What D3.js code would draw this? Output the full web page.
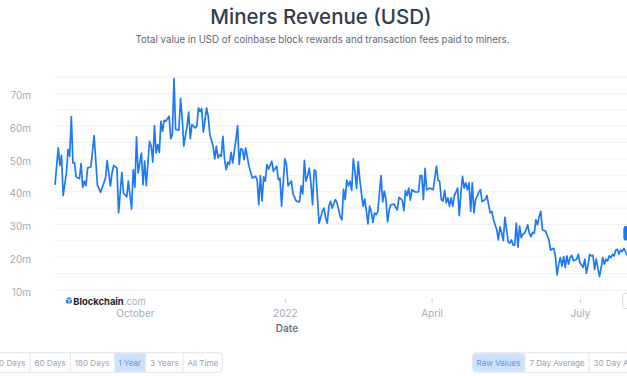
<!DOCTYPE html>
<html>
<head>
<meta charset="utf-8">
<script src="https://cdn.jsdelivr.net/npm/d3@7/dist/d3.min.js"></script>
<style>
  body { margin: 0; background: #fff; overflow: hidden; }
  svg { display: block; font-family: Inter, "Noto Sans", sans-serif; }
</style>
</head>
<body>
<div id="chart"></div>
<script>
// miners revenue, 1 year view, values in millions USD
const startDate = new Date(2021, 7, 13);
const dayIndex = [
  0, 2, 3, 4, 5, 7, 8, 9, 10, 11, 12, 13, 15, 16, 17, 18, 19, 20, 22, 24,
  26, 28, 30, 31, 32, 34, 35, 36, 38, 39, 41, 42, 44, 45, 47, 48, 49, 50, 51, 53,
  54, 55, 56, 58, 59, 60, 61, 62, 63, 64, 65, 66, 67, 68, 70, 71, 72, 73, 74, 76,
  77, 78, 79, 81, 82, 83, 84, 86, 87, 88, 89, 90, 91, 93, 94, 95, 97, 98, 99, 100,
  101, 102, 103, 104, 105, 106, 107, 108, 109, 111, 112, 113, 114, 115, 116, 117, 119, 121, 123, 124,
  125, 126, 127, 128, 129, 130, 131, 133, 134, 136, 137, 138, 139, 141, 142, 143, 145, 146, 148, 150,
  151, 152, 153, 154, 155, 156, 157, 158, 159, 160, 162, 164, 165, 166, 167, 168, 169, 170, 172, 173,
  175, 176, 177, 178, 179, 180, 181, 182, 183, 184, 185, 186, 187, 189, 190, 191, 192, 193, 194, 195,
  196, 197, 198, 200, 201, 202, 203, 204, 205, 206, 208, 210, 211, 213, 214, 215, 216, 217, 218, 219,
  221, 223, 224, 225, 226, 227, 228, 230, 231, 232, 234, 235, 236, 237, 238, 239, 240, 241, 242, 243,
  244, 245, 247, 248, 249, 250, 251, 252, 253, 254, 255, 256, 257, 258, 260, 261, 262, 264, 265, 266,
  267, 268, 269, 270, 271, 272, 273, 274, 275, 276, 277, 278, 279, 280, 281, 282, 283, 284, 285, 286,
  287, 288, 289, 290, 291, 292, 293, 294, 295, 296, 297, 298, 299, 301, 303, 304, 306, 307, 308, 309,
  310, 311, 312, 313, 314, 315, 316, 317, 318, 320, 321, 322, 323, 324, 325, 326, 327, 328, 329, 330,
  331, 332, 334, 335, 336, 337, 338, 339, 340, 341, 342, 343, 344, 345, 346, 347, 348, 349, 350, 351
];
const revenueM = [
  42.1, 53.4, 48.0, 51.1, 38.8, 45.7, 52.9, 50.8, 62.9, 48.8, 48.8, 44.5, 44.0, 48.6, 41.3, 43.2, 41.8, 47.2, 47.6, 57.1,
  42.1, 39.8, 42.7, 44.2, 49.5, 41.8, 45.7, 48.0, 47.2, 33.5, 45.9, 39.6, 38.4, 43.2, 34.7, 46.7, 41.4, 56.7, 45.7, 51.8,
  42.1, 49.3, 41.8, 55.4, 53.9, 49.0, 60.2, 51.8, 54.4, 52.0, 61.5, 58.5, 61.8, 61.5, 63.0, 56.2, 57.4, 74.5, 59.0, 58.8,
  68.4, 62.6, 53.9, 60.0, 64.3, 56.2, 60.5, 59.5, 60.0, 65.6, 64.4, 65.3, 58.2, 65.6, 63.0, 57.4, 53.9, 50.0, 53.9, 50.3,
  51.3, 50.8, 56.9, 49.8, 46.7, 49.0, 48.3, 52.0, 48.8, 55.9, 60.2, 48.3, 53.1, 52.9, 49.8, 53.3, 47.8, 44.2, 44.7, 43.7,
  36.0, 44.9, 37.1, 44.5, 43.2, 48.3, 46.9, 49.3, 46.2, 47.8, 43.7, 44.1, 35.6, 50.0, 48.3, 41.8, 43.3, 39.4, 37.1, 36.9,
  41.8, 39.3, 49.6, 43.2, 44.9, 47.2, 42.5, 36.0, 46.7, 46.2, 30.4, 34.0, 35.0, 32.0, 30.4, 35.5, 37.1, 35.0, 37.6, 36.6,
  32.3, 31.4, 40.7, 37.6, 43.5, 41.8, 43.2, 40.4, 50.0, 46.2, 41.0, 49.1, 43.5, 35.5, 37.8, 34.2, 30.2, 35.6, 33.9, 30.6,
  33.5, 33.0, 33.9, 44.9, 36.9, 40.2, 37.7, 30.8, 34.4, 36.0, 36.2, 34.4, 38.3, 37.4, 34.2, 40.3, 38.8, 41.1, 37.4, 40.6,
  39.9, 39.9, 44.9, 44.9, 37.6, 47.1, 40.6, 41.1, 40.8, 40.6, 47.8, 43.5, 43.1, 37.6, 37.1, 40.4, 36.6, 38.1, 35.6, 38.1,
  35.6, 38.8, 41.1, 32.7, 39.6, 44.7, 41.1, 42.7, 40.6, 42.7, 34.0, 42.7, 33.5, 37.6, 39.8, 40.6, 37.0, 37.6, 38.8, 36.0,
  33.5, 34.0, 31.4, 29.9, 28.4, 25.3, 29.3, 27.3, 25.1, 32.2, 28.4, 24.7, 24.3, 25.3, 23.7, 23.7, 30.4, 23.1, 29.5, 26.0,
  27.0, 27.3, 28.4, 29.9, 27.3, 26.3, 27.6, 27.3, 31.4, 29.9, 32.4, 34.0, 28.4, 27.9, 25.3, 22.2, 22.7, 20.1, 14.6, 17.9,
  19.9, 17.3, 20.2, 16.9, 20.4, 17.9, 19.9, 20.6, 18.9, 19.4, 20.9, 18.4, 17.6, 16.9, 19.4, 15.1, 17.6, 20.9, 20.4, 20.6,
  16.3, 19.4, 14.1, 16.7, 19.9, 17.9, 19.4, 18.9, 20.4, 19.9, 20.9, 20.4, 22.2, 22.4, 20.9, 22.2, 21.7, 22.7, 21.7, 20.6
];
const gridValues = [10, 15, 20, 25, 30, 35, 40, 45, 50, 55, 60, 65, 70, 75];
const yTickValues = [10, 20, 30, 40, 50, 60, 70];
const monthTicks = ["2021-10-01", "2022-01-01", "2022-04-01", "2022-07-01"];
const monthLabels = ["October", "2022", "April", "July"];
const rangeButtons = ["30 Days", "60 Days", "180 Days", "1 Year", "3 Years", "All Time"];
const averageButtons = ["Raw Values", "7 Day Average", "30 Day Average"];
const cursorValue = 27.4;

const width = 627, height = 376;
const margin = {top: 77, left: 55, bottom: 290};
const plotRight = 650;

const data = dayIndex.map((d, i) => ({date: d3.timeDay.offset(startDate, d), value: revenueM[i]}));

const svg = d3.select("#chart").append("svg")
    .attr("width", width)
    .attr("height", height);

// title
svg.append("text")
    .attr("x", 321).attr("y", 23.5)
    .attr("text-anchor", "middle")
    .style("font-size", "20.5px").style("font-weight", 500)
    .attr("fill", "#333d4d")
    .text("Miners Revenue (USD)");
svg.append("text")
    .attr("x", 322.5).attr("y", 42.7)
    .attr("text-anchor", "middle")
    .style("font-size", "9.7px")
    .attr("fill", "#5f6878")
    .text("Total value in USD of coinbase block rewards and transaction fees paid to miners.");

const x = d3.scaleTime()
    .domain([startDate, d3.timeDay.offset(startDate, 365)])
    .range([margin.left, plotRight]);
const y = d3.scaleLinear()
    .domain([10, 75])
    .range([margin.bottom, margin.top]);

// grid
svg.append("g").selectAll("line")
    .data(gridValues)
    .join("line")
    .attr("x1", margin.left).attr("x2", plotRight)
    .attr("y1", d => y(d)).attr("y2", d => y(d))
    .attr("stroke", "#eef0f3").attr("stroke-width", 1);

// y axis
const yAxis = svg.append("g")
    .attr("transform", "translate(31, 2)")
    .call(d3.axisLeft(y).tickValues(yTickValues).tickSize(0).tickPadding(0).tickFormat(d => d + "m"));
yAxis.select(".domain").remove();
yAxis.selectAll("text")
    .style("font-family", "Inter, sans-serif").style("font-size", "10px")
    .attr("fill", "#a3abb9");

// x axis
const xAxis = svg.append("g")
    .attr("transform", "translate(0, 299)")
    .call(d3.axisBottom(x)
        .tickValues(monthTicks.map(d => d3.timeParse("%Y-%m-%d")(d)))
        .tickSize(4).tickPadding(6.5)
        .tickFormat((d, i) => monthLabels[i]));
xAxis.select(".domain").remove();
xAxis.selectAll("line").attr("stroke", "#c9ced6");
xAxis.selectAll("text")
    .style("font-family", "Inter, sans-serif").style("font-size", "10px")
    .attr("fill", "#a3abb9");

svg.append("text")
    .attr("x", 287).attr("y", 331.5)
    .attr("text-anchor", "middle")
    .style("font-size", "10px").style("font-weight", 600)
    .attr("fill", "#6b7383")
    .text("Date");

// series
const line = d3.line()
    .x(d => x(d.date))
    .y(d => y(d.value));

svg.append("path")
    .datum(data)
    .attr("fill", "none")
    .attr("stroke", "#1e7af4")
    .attr("stroke-width", 1.7)
    .attr("stroke-linejoin", "round")
    .attr("d", line);

// crosshair labels cut off at the right edge
svg.append("rect")
    .attr("x", 623.3).attr("y", y(cursorValue) - 7)
    .attr("width", 24).attr("height", 14.5).attr("rx", 3)
    .attr("fill", "#1e7af4");
svg.append("rect")
    .attr("x", 622.7).attr("y", 293.5)
    .attr("width", 24).attr("height", 15).attr("rx", 3)
    .attr("fill", "#fff").attr("stroke", "#d5d9df");

// watermark
const logo = svg.append("g").attr("transform", "translate(66, 297)");
logo.append("rect").attr("x", -1).attr("y", -1).attr("width", 80).attr("height", 11).attr("fill", "#fff");
logo.append("path").attr("d", "M3,0 L6,1.6 L3,3.2 L0,1.6 Z").attr("fill", "#4a9cf5");
logo.append("path").attr("d", "M0,2.4 L2.6,3.8 L2.6,7 L0,5.6 Z").attr("fill", "#1e6fe0");
logo.append("path").attr("d", "M6,2.4 L3.4,3.8 L3.4,7 L6,5.6 Z").attr("fill", "#2a83ef");
const brand = logo.append("text")
    .attr("x", 7.3).attr("y", 8.3)
    .style("font-size", "9.4px");
brand.append("tspan").style("font-weight", 700).attr("fill", "#1b1f27").text("Blockchain");
brand.append("tspan").attr("fill", "#a9b0bd").text(".com");

// button bars; secondX = where the second button starts
function buttonBar(labels, selected, secondX) {
    const g = svg.append("g");
    const texts = labels.map(l => g.append("text")
        .style("font-size", "8.1px").text(l));
    const widths = texts.map(t => t.node().getComputedTextLength() + 8.8);
    const total = d3.sum(widths);
    let cx = secondX - widths[0];
    const top = 352.7, h = 19.6;
    g.insert("rect", "text")
        .attr("x", cx + 0.5).attr("y", top)
        .attr("width", total - 1).attr("height", h).attr("rx", 4)
        .attr("fill", "#fff").attr("stroke", "#e2e5ea");
    labels.forEach((l, i) => {
        if (l === selected) {
            const r = g.insert("rect", "text")
                .attr("x", cx + 0.5).attr("y", top + 0.5)
                .attr("width", widths[i] - 0.5).attr("height", h - 1)
                .attr("fill", "#cfe2fd");
            if (i === 0) r.attr("rx", 3.5);
        } else if (i > 0) {
            g.insert("line", "text")
                .attr("x1", cx).attr("x2", cx)
                .attr("y1", top).attr("y2", top + h)
                .attr("stroke", "#e2e5ea");
        }
        texts[i]
            .attr("x", cx + widths[i] / 2).attr("y", top + 13)
            .attr("text-anchor", "middle")
            .attr("fill", l === selected ? "#5b93f0" : "#9ba3b2");
        cx += widths[i];
    });
}
buttonBar(rangeButtons, "1 Year", 30);
buttonBar(averageButtons, "Raw Values", 525);
</script>
</body>
</html>
